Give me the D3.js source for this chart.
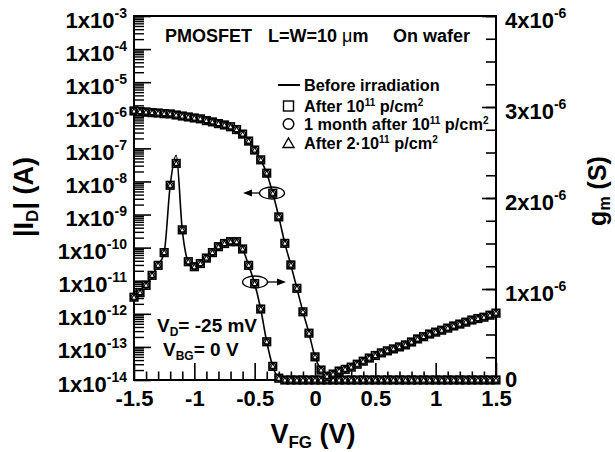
<!DOCTYPE html>
<html>
<head>
<meta charset="utf-8">
<script src="https://cdn.jsdelivr.net/npm/d3@7/dist/d3.min.js"></script>
<style>
  html, body { margin: 0; padding: 0; background: #fff; }
  svg { display: block; }
  text { font-family: "Liberation Sans", Arial, Helvetica, sans-serif; font-weight: bold; fill: #000; }
</style>
</head>
<body>
<svg id="chart" width="615" height="452"></svg>
<script>
// Front-gate sweep voltage V_FG (V)
const vfg = [
  -1.5, -1.45, -1.4, -1.35, -1.3, -1.25, -1.2, -1.15, -1.1, -1.05,
  -1.0, -0.95, -0.9, -0.85, -0.8, -0.75, -0.7, -0.65, -0.6, -0.55,
  -0.5, -0.45, -0.4, -0.35, -0.3, -0.25, -0.2, -0.15, -0.1, -0.05,
  0, 0.05, 0.1, 0.15, 0.2, 0.25, 0.3, 0.35, 0.4, 0.45,
  0.5, 0.55, 0.6, 0.65, 0.7, 0.75, 0.8, 0.85, 0.9, 0.95,
  1.0, 1.05, 1.1, 1.15, 1.2, 1.25, 1.3, 1.35, 1.4, 1.45, 1.5
];

// Drain current |I_D| (A), before irradiation and after the fluences
const idBefore = [
  1.35e-6, 1.30e-6, 1.26e-6, 1.20e-6, 1.17e-6, 1.12e-6, 1.10e-6, 1.02e-6, 9.5e-7, 8.9e-7,
  8.3e-7, 7.8e-7, 6.9e-7, 6.3e-7, 5.6e-7, 5.1e-7, 4.5e-7, 3.7e-7, 2.7e-7, 1.66e-7,
  8.9e-8, 4.5e-8, 1.78e-8, 4.4e-9, 8.5e-10, 1.35e-10, 3.0e-11, 5.9e-12, 1.15e-12, 2.6e-13,
  5.0e-14, 2.0e-14, 1.29e-14, 1.51e-14, 1.86e-14, 2.1e-14, 2.45e-14, 3.0e-14, 3.7e-14, 4.6e-14,
  5.5e-14, 6.6e-14, 7.6e-14, 8.7e-14, 1.0e-13, 1.15e-13, 1.41e-13, 1.74e-13, 2.04e-13, 2.45e-13,
  2.8e-13, 3.2e-13, 3.7e-13, 4.3e-13, 4.9e-13, 5.6e-13, 6.5e-13, 7.2e-13, 7.9e-13, 9.1e-13, 1.05e-12
];
const idAfter = idBefore;

// Transconductance g_m (S)
const gmBefore = [
  9.1e-7, 9.6e-7, 1.04e-6, 1.15e-6, 1.26e-6, 1.40e-6, 2.14e-6, 2.47e-6, 1.65e-6, 1.30e-6,
  1.245e-6, 1.28e-6, 1.34e-6, 1.40e-6, 1.465e-6, 1.50e-6, 1.52e-6, 1.52e-6, 1.44e-6, 1.26e-6,
  1.06e-6, 7.8e-7, 4.2e-7, 1.5e-7, 2.0e-8, 0, 0, 0, 0, 0,
  0, 0, 0, 0, 0, 0, 0, 0, 0, 0,
  0, 0, 0, 0, 0, 0, 0, 0, 0, 0,
  0, 0, 0, 0, 0, 0, 0, 0, 0, 0, 0
];
const gmAfter = [
  9.1e-7, 9.6e-7, 1.04e-6, 1.15e-6, 1.26e-6, 1.40e-6, 2.14e-6, 2.38e-6, 1.65e-6, 1.30e-6,
  1.245e-6, 1.28e-6, 1.34e-6, 1.40e-6, 1.465e-6, 1.50e-6, 1.52e-6, 1.52e-6, 1.44e-6, 1.26e-6,
  1.06e-6, 7.8e-7, 4.2e-7, 1.5e-7, 2.0e-8, 0, 0, 0, 0, 0,
  0, 0, 0, 0, 0, 0, 0, 0, 0, 0,
  0, 0, 0, 0, 0, 0, 0, 0, 0, 0,
  0, 0, 0, 0, 0, 0, 0, 0, 0, 0, 0
];

// Axis ticks and labels
const xMajor = [-1.5, -1, -0.5, 0, 0.5, 1, 1.5];
const xTickLabels = ["-1.5", "-1", "-0.5", "0", "0.5", "1", "1.5"];
const yLeftExponents = [-14, -13, -12, -11, -10, -9, -8, -7, -6, -5, -4, -3];
const yRightMajor = [0, 1e-6, 2e-6, 3e-6, 4e-6];
const yRightLabels = [["0", ""], ["1x10", "-6"], ["2x10", "-6"], ["3x10", "-6"], ["4x10", "-6"]];

const svg = d3.select("#chart");
const L = 134, R = 496, T = 16, B = 380;

const x = d3.scaleLinear().domain([-1.5, 1.5]).range([L, R]);
const yL = d3.scaleLog().domain([1e-14, 1e-3]).range([B, T]);
const yR = d3.scaleLinear().domain([0, 4e-6]).range([B, T]);

// ---- bottom axis (ticks point inward) ----
const xMinor = d3.range(-15, 16).map(i => i / 10).filter(v => Math.abs(v * 2 - Math.round(v * 2)) > 1e-9);
svg.append("g").attr("transform", `translate(0,${B})`)
  .call(d3.axisBottom(x).tickValues(xMinor).tickSize(-8.5).tickFormat(""))
  .call(g => g.select(".domain").remove())
  .call(g => g.selectAll("line").attr("stroke-width", 1.6));
svg.append("g").attr("transform", `translate(0,${B})`)
  .call(d3.axisBottom(x).tickValues(xMajor).tickSize(-17).tickPadding(10)
    .tickFormat((d, i) => xTickLabels[i]))
  .call(g => g.select(".domain").remove())
  .call(g => g.selectAll("text").attr("font-size", 22).attr("font-family", null))
  .call(g => g.selectAll("line").attr("stroke-width", 1.6));

// ---- left log axis ----
const leftMinor = [];
yLeftExponents.slice(0, -1).forEach(e => { for (let k = 2; k <= 9; k++) leftMinor.push(k * Math.pow(10, e)); });
svg.append("g").attr("transform", `translate(${L},0)`)
  .call(d3.axisLeft(yL).tickValues(leftMinor).tickSize(-10).tickFormat(""))
  .call(g => g.select(".domain").remove())
  .call(g => g.selectAll("line").attr("stroke-width", 1.4));
const leftAxis = svg.append("g").attr("transform", `translate(${L},0)`)
  .call(d3.axisLeft(yL).tickValues(yLeftExponents.map(e => Math.pow(10, e))).tickSize(-17).tickPadding(7))
  .call(g => g.select(".domain").remove())
  .call(g => g.selectAll("line").attr("stroke-width", 1.6));
leftAxis.selectAll(".tick text").each(function (d, i) {
  const t = d3.select(this).text(null).attr("font-size", 22).attr("font-family", null).attr("dy", "0.5em");
  t.append("tspan").text("1x10");
  t.append("tspan").attr("font-size", 14).attr("dy", -10).text(String(yLeftExponents[i]));
});

// ---- right linear axis ----
const rightMinor = d3.range(0, 17).map(i => i * 0.25e-6);
svg.append("g").attr("transform", `translate(${R},0)`)
  .call(d3.axisRight(yR).tickValues(rightMinor).tickSize(-10).tickFormat(""))
  .call(g => g.select(".domain").remove())
  .call(g => g.selectAll("line").attr("stroke-width", 1.6));
const rightAxis = svg.append("g").attr("transform", `translate(${R},0)`)
  .call(d3.axisRight(yR).tickValues(yRightMajor).tickSize(-14).tickPadding(9))
  .call(g => g.select(".domain").remove())
  .call(g => g.selectAll("line").attr("stroke-width", 1.6));
rightAxis.selectAll(".tick text").each(function (d, i) {
  const t = d3.select(this).text(null).attr("font-size", 22).attr("font-family", null)
    .attr("dy", d === 0 ? "0.28em" : "0.5em");
  t.append("tspan").text(yRightLabels[i][0]);
  if (yRightLabels[i][1]) t.append("tspan").attr("font-size", 14).attr("dy", -10).text(yRightLabels[i][1]);
});

// ---- frame ----
svg.append("rect").attr("x", L).attr("y", T).attr("width", R - L).attr("height", B - T)
  .attr("fill", "none").attr("stroke", "#000").attr("stroke-width", 2);

// ---- curves ----
svg.append("clipPath").attr("id", "plotClip")
  .append("rect").attr("x", L).attr("y", T).attr("width", R - L).attr("height", B - T);

const idLine = d3.line().x((d, i) => x(vfg[i])).y(d => yL(d)).curve(d3.curveMonotoneX);
const gmLine = d3.line().x((d, i) => x(vfg[i])).y(d => yR(d)).curve(d3.curveMonotoneX);

svg.append("path").attr("d", idLine(idBefore)).attr("fill", "none").attr("stroke", "#000")
  .attr("stroke-width", 1.6).attr("clip-path", "url(#plotClip)");
svg.append("path").attr("d", gmLine(gmBefore)).attr("fill", "none").attr("stroke", "#000")
  .attr("stroke-width", 1.6).attr("clip-path", "url(#plotClip)");

// markers for the three irradiated measurements (square, circle, triangle)
function drawMarkers(values, yScale) {
  const g = svg.append("g").attr("fill", "#fff").attr("stroke", "#000").attr("stroke-width", 1.6);
  const pts = values.map((v, i) => [x(vfg[i]), yScale(v)]);
  g.selectAll("rect.sq").data(pts).join("rect").attr("class", "sq")
    .attr("x", d => d[0] - 3.8).attr("y", d => d[1] - 3.8).attr("width", 7.6).attr("height", 7.6);
  g.selectAll("circle").data(pts).join("circle")
    .attr("cx", d => d[0]).attr("cy", d => d[1]).attr("r", 3).attr("fill", "none").attr("stroke-width", 1.2);
  g.selectAll("path.tri").data(pts).join("path").attr("class", "tri")
    .attr("d", d => `M${d[0]},${d[1] - 2.8}L${d[0] + 2.6},${d[1] + 2}L${d[0] - 2.6},${d[1] + 2}Z`)
    .attr("fill", "none").attr("stroke-width", 1.1);
}
drawMarkers(gmAfter, yR);
drawMarkers(idAfter, yL);

// ---- title and legend ----
const title = svg.append("text").attr("y", 42).attr("font-size", 18);
title.append("tspan").attr("x", 165).text("PMOSFET");
title.append("tspan").attr("x", 268).text("L=W=10 ");
title.append("tspan").attr("font-weight", "normal").text("μ");
title.append("tspan").text("m");
title.append("tspan").attr("x", 393).text("On wafer");

const lg = svg.append("g");
lg.append("line").attr("x1", 278).attr("x2", 300).attr("y1", 85).attr("y2", 85)
  .attr("stroke", "#000").attr("stroke-width", 2);
lg.append("rect").attr("x", 283.5).attr("y", 101).attr("width", 10).attr("height", 10)
  .attr("fill", "none").attr("stroke", "#000").attr("stroke-width", 1.4);
lg.append("circle").attr("cx", 288.5).attr("cy", 124).attr("r", 5.3)
  .attr("fill", "none").attr("stroke", "#000").attr("stroke-width", 1.4);
lg.append("path").attr("d", "M288.5,138L294,147.5L283,147.5Z")
  .attr("fill", "none").attr("stroke", "#000").attr("stroke-width", 1.4);

function legendText(yBase, parts) {
  const t = lg.append("text").attr("x", 304).attr("y", yBase).attr("font-size", 16.3);
  parts.forEach(p => {
    if (p.sup) t.append("tspan").attr("font-size", 10).attr("dy", -6).text(p.s);
    else t.append("tspan").attr("dy", p.after ? 6 : 0).text(p.s);
  });
}
legendText(91, [{ s: "Before irradiation" }]);
legendText(112, [{ s: "After 10" }, { s: "11", sup: true }, { s: " p/cm", after: true }, { s: "2", sup: true }]);
legendText(130, [{ s: "1 month after 10" }, { s: "11", sup: true }, { s: " p/cm", after: true }, { s: "2", sup: true }]);
legendText(149, [{ s: "After 2·10" }, { s: "11", sup: true }, { s: " p/cm", after: true }, { s: "2", sup: true }]);

// ---- bias annotations ----
const vd = svg.append("text").attr("x", 157).attr("y", 332).attr("font-size", 19);
vd.append("tspan").text("V");
vd.append("tspan").attr("font-size", 12).attr("dy", 4).text("D");
vd.append("tspan").attr("dy", -4).text("= -25 mV");
const vbg = svg.append("text").attr("x", 163).attr("y", 356).attr("font-size", 19);
vbg.append("tspan").text("V");
vbg.append("tspan").attr("font-size", 12).attr("dy", 4).text("BG");
vbg.append("tspan").attr("dy", -4).text("= 0 V");

// ---- curve-to-axis pointers ----
function pointer(cx, cy, x2) {
  svg.append("ellipse").attr("cx", cx).attr("cy", cy).attr("rx", 12.5).attr("ry", 6)
    .attr("fill", "none").attr("stroke", "#000").attr("stroke-width", 1.3);
  const dir = Math.sign(x2 - cx);
  const x1 = cx + dir * 12.5;
  svg.append("line").attr("x1", x1).attr("x2", x2 - dir * 6).attr("y1", cy).attr("y2", cy)
    .attr("stroke", "#000").attr("stroke-width", 1.3);
  svg.append("path").attr("d", `M${x2},${cy}L${x2 - dir * 9},${cy - 3.5}L${x2 - dir * 9},${cy + 3.5}Z`)
    .attr("fill", "#000");
}
pointer(272, 193, 243);
pointer(255, 282, 286);

// ---- axis titles ----
const xt = svg.append("text").attr("x", 313).attr("y", 443).attr("font-size", 27).attr("text-anchor", "middle");
xt.append("tspan").text("V");
xt.append("tspan").attr("font-size", 17).attr("dy", 5).text("FG");
xt.append("tspan").attr("dy", -5).text("  (V)");

const yt = svg.append("text").attr("transform", "translate(33,197) rotate(-90)")
  .attr("font-size", 27).attr("text-anchor", "middle");
yt.append("tspan").text("|I");
yt.append("tspan").attr("font-size", 17).attr("dy", 5).text("D");
yt.append("tspan").attr("dy", -5).text("|  (A)");

const rt = svg.append("text").attr("transform", "translate(606,191) rotate(-90)")
  .attr("font-size", 25).attr("text-anchor", "middle");
rt.append("tspan").text("g");
rt.append("tspan").attr("font-size", 16).attr("dy", 4).text("m");
rt.append("tspan").attr("dy", -4).text("  (S)");
</script>
</body>
</html>
